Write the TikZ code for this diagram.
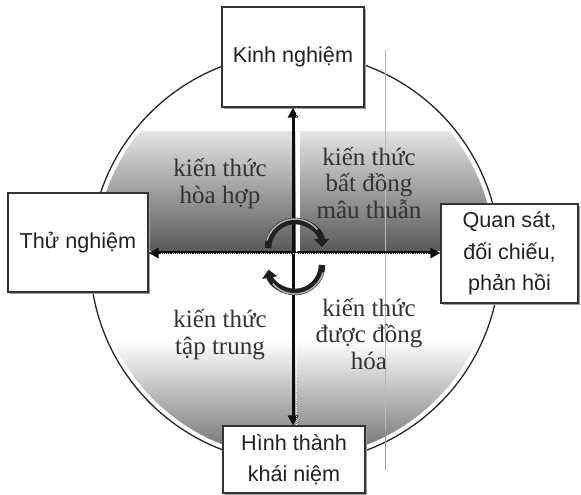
\documentclass[tikz,border=0pt]{standalone}
\usepackage{fontspec}
\setmainfont{Liberation Serif}
\newfontfamily\boxfont{Liberation Sans}
\usetikzlibrary{arrows.meta,shadows}
\definecolor{ink}{HTML}{333333}
\definecolor{boxtext}{HTML}{222222}
\begin{document}
\begin{tikzpicture}[x=1pt,y=1pt,
  box/.style={draw=ink, line width=1.1pt, fill=white,
    font=\boxfont\fontsize{21.6}{31.5}\selectfont, text=boxtext, align=center,
    inner sep=0pt,
    drop shadow={shadow xshift=1.6pt, shadow yshift=-1.6pt, fill=gray!75, opacity=1}},
  qtext/.style={font=\fontsize{25}{26.5}\selectfont, text=ink, align=center},
  axisline/.style={line width=3pt, draw=gray!10!black,
    {Triangle[length=10pt,width=10pt]}-{Triangle[length=10pt,width=10pt]}},
  axisdots/.style={draw=white, line width=0.9pt, dash pattern=on 1pt off 1.2pt},
  turn/.style={line width=6.5pt, draw=gray!25!black, -{Triangle[length=8pt,width=15pt]}},
  turnlight/.style={line width=1.6pt, draw=gray!65}
]
\useasboundingbox (0,0) rectangle (581,495);
\fill[white] (0,0) rectangle (581,495);

\coordinate (o) at (295,237);
\coordinate (c) at (294,242);

% disc
\fill[white] (o) circle (205);
\begin{scope}
  \clip (o) circle (200);
  \shade[top color=gray!22, bottom color=gray!70!black] (80,244) rectangle (510,363);
  \shade[top color=white, bottom color=gray!75!black] (80,28) rectangle (510,155);
\end{scope}
\draw[gray!30!black, line width=1.3pt] (o) circle (205);
\fill[white] (296,244) rectangle (300,363);

% thin vertical mark
\draw[gray!55, line width=0.5pt] (385,445) -- (385,65);
\draw[red!55, line width=0.5pt] (385,65) -- (385,25);

% boxes
\node[box, minimum width=142pt, minimum height=100pt] (kn) at (293,438) {Kinh nghiệm};
\node[box, minimum width=140pt, minimum height=99pt] (tn) at (78,252.5) {Thử nghiệm};
\node[box, minimum width=137pt, minimum height=99pt] (qs) at (509.5,241.5) {Quan sát,\\đối chiếu,\\phản hồi};
\node[box, minimum width=142pt, minimum height=67pt] (ht) at (294,35.5) {Hình thành\\khái niệm};

% axes
\draw[axisline] (kn.south) -- (kn.south |- ht.north);
\draw[axisline] (tn.east |- c) -- (qs.west |- c);
\draw[axisdots] ([xshift=3.5pt]kn.south) -- ([xshift=3.5pt]kn.south |- ht.north);
\draw[axisdots] ([xshift=12pt]tn.east |- c) -- ([xshift=-12pt]qs.west |- c);

% turning arrows
\draw[turn] (295,247) ++(180:27) arc[start angle=180, end angle=2, radius=27];
\draw[turnlight] (295,247) ++(165:29) arc[start angle=165, end angle=40, radius=29];
\draw[turn] (295,230) ++(0:27) arc[start angle=0, end angle=-170, radius=27];
\draw[turnlight] (295,230) ++(-15:29) arc[start angle=-15, end angle=-140, radius=29];

% quadrant texts
\node[qtext] (q1) at (220,311.5) {kiến thức\\hòa hợp};
\node[qtext] (q2) at (369,312) {kiến thức\\bất đồng\\mâu thuẫn};
\node[qtext] (q3) at (220,160.5) {kiến thức\\tập trung};
\node[qtext] (q4) at (369,161) {kiến thức\\được đồng\\hóa};
\end{tikzpicture}
\end{document}
